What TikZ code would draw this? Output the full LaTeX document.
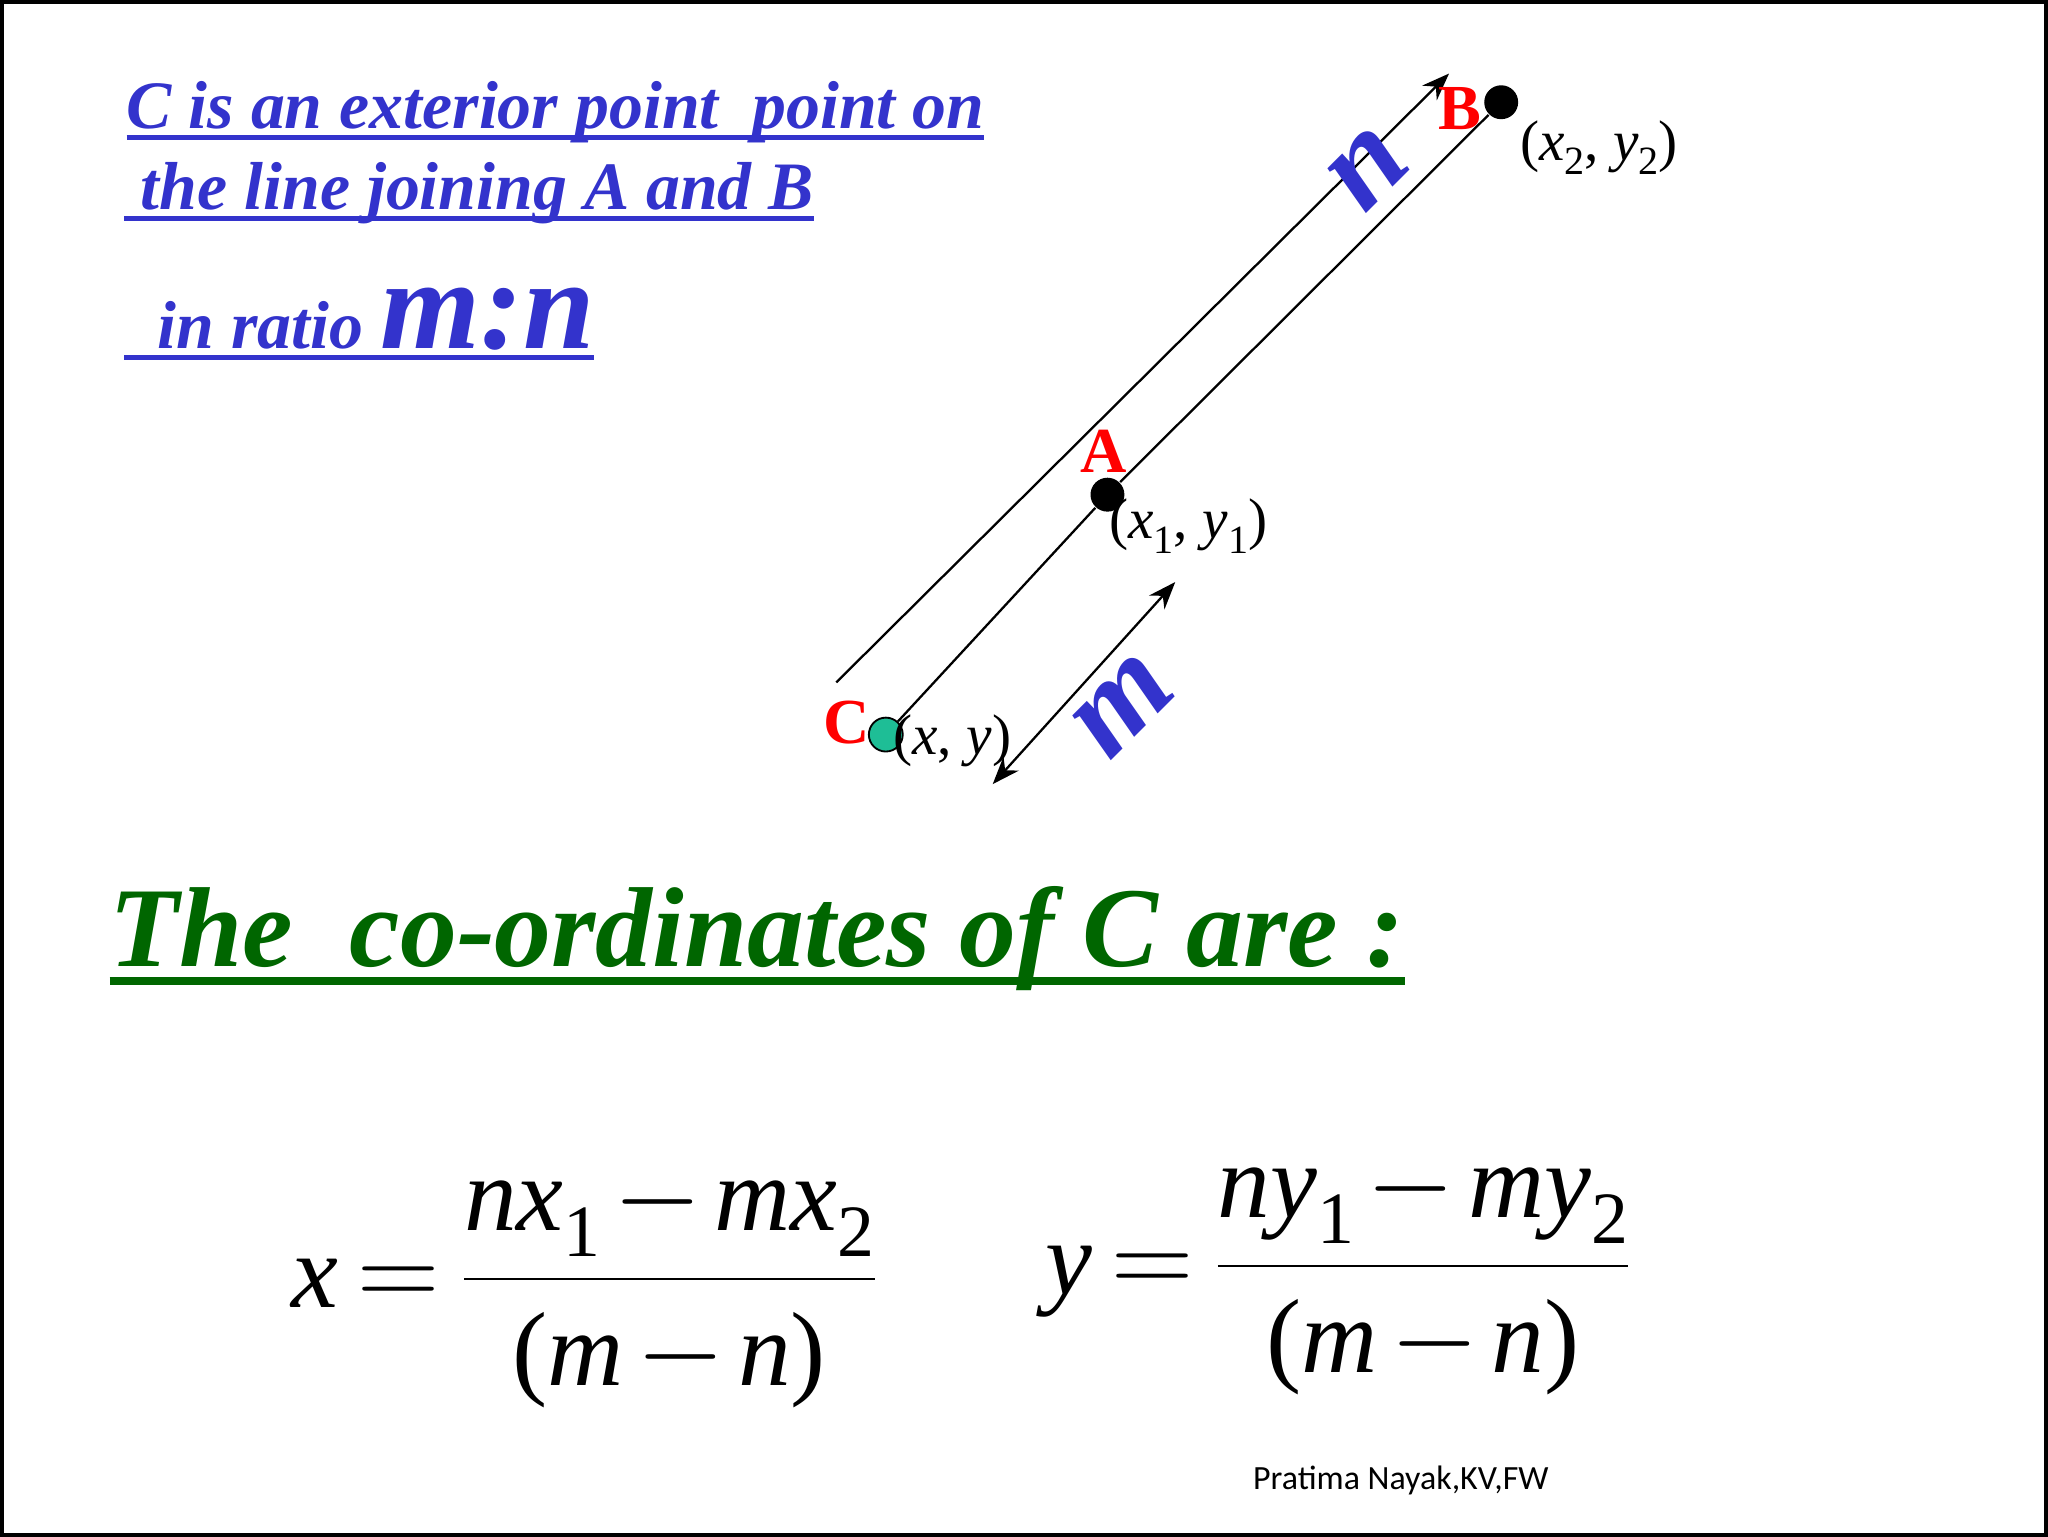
\documentclass[tikz,border=0pt]{standalone}
\usepackage{fontspec}
\setmainfont{Liberation Serif}
\newfontfamily\footfont{Carlito}
\usetikzlibrary{arrows.meta}
\definecolor{tblue}{RGB}{51,51,204}
\definecolor{tgreen}{RGB}{0,102,0}
\definecolor{cgreen}{RGB}{30,190,150}
\newcommand\thul[3]{\leavevmode\setbox0\hbox{#3}\rlap{\rule[-#1]{\wd0}{#2}}\box0}
\newcommand\ti[1]{\textit{#1}}
\newcommand\sbs[1]{\raisebox{-0.25em}{\scalebox{0.7}{#1}}}
\tikzset{
 ttl/.style={anchor=base west,inner sep=0,text=tblue,font=\fontsize{14.8}{16}\selectfont\bfseries\itshape},
 lbl/.style={text=red,font=\fontsize{14}{16}\selectfont\bfseries,inner sep=0},
 crd/.style={font=\fontsize{12.5}{15}\selectfont,inner sep=0},
 big/.style={text=tblue,font=\fontsize{28}{30}\selectfont\bfseries\itshape,inner sep=0},
 dot/.style={circle,fill=black,minimum size=0.26cm,inner sep=0},
 ln/.style={line width=0.5pt},
 frm/.style={inner sep=0,font=\fontsize{23}{30}\selectfont},
}
\begin{document}
\begin{tikzpicture}[x=0.01cm,y=-0.01cm]
\draw[line width=0.8pt] (0,0) rectangle (1568,1176);
\node[ttl] (t1) at (95,97) {\thul{2.5pt}{1pt}{C is an exterior point\ \ point on}};
\node[ttl] (t2) at (93,159) {\thul{2.5pt}{1pt}{\ the line joining A and B}};
\node[ttl] (t3) at (93,266) {\thul{2.5pt}{1.2pt}{\ \ in ratio {\fontsize{28}{32}\selectfont m:n}}};
\coordinate (p1) at (640,522);
\coordinate (p2) at (1110,55);
\node[dot] (B) at (1150,77) {};
\node[dot] (A) at (848,378) {};
\node[circle,fill=cgreen,draw=black,minimum size=0.26cm,inner sep=0] (C) at (678,562) {};
\draw[ln,-{Stealth[length=6pt]}] (p1) -- (p2);
\draw[ln] (C) -- (A) -- (B);
\coordinate (m1) at (760,600);
\coordinate (m2) at (900,445);
\draw[ln,{Stealth[length=6pt]}-{Stealth[length=6pt]}] (m1) -- (m2);
\node[lbl] (lB) at (1118,82) {B};
\node[lbl] (lA) at (845,345) {A};
\node[lbl] (lC) at (648,553) {C};
\node[crd] (cB) at (1225,112) {(\ti{x}\sbs{2}, \ti{y}\sbs{2})};
\node[crd] (cA) at (910,402) {(\ti{x}\sbs{1}, \ti{y}\sbs{1})};
\node[crd] (cC) at (729,567) {(\ti{x}, \ti{y})};
\node[big,rotate=45] (n) at (1048,128) {n};
\node[big,rotate=45] (m) at (860,540) {m};
\node[anchor=base west,inner sep=0,text=tgreen,font=\fontsize{24.8}{30}\selectfont\bfseries\itshape] (g) at (82,740) {\thul{4pt}{1.8pt}{The\ \ co-ordinates of C are :}};
\node[frm] (f1) at (448,985) {$\displaystyle \hbox{\ti{x}}\mskip-2mu=\mskip-2mu\frac{\hbox{\ti{nx}\sbs{1}}\mskip-2mu-\mskip-2mu\hbox{\ti{mx}\sbs{2}}}{\hbox{(\ti{m}}\mskip-2mu-\mskip-2mu\hbox{\ti{n})}}$};
\node[frm] (f2) at (1026,975) {$\displaystyle \hbox{\ti{y}}\mskip-2mu=\mskip-2mu\frac{\hbox{\ti{ny}\sbs{1}}\mskip-2mu-\mskip-2mu\hbox{\ti{my}\sbs{2}}}{\hbox{(\ti{m}}\mskip-2mu-\mskip-2mu\hbox{\ti{n})}}$};
\node[inner sep=0,font=\footfont\fontsize{7.4}{8}\selectfont] (ft) at (1073,1134) {Pratima Nayak,KV,FW};
\end{tikzpicture}
\end{document}
